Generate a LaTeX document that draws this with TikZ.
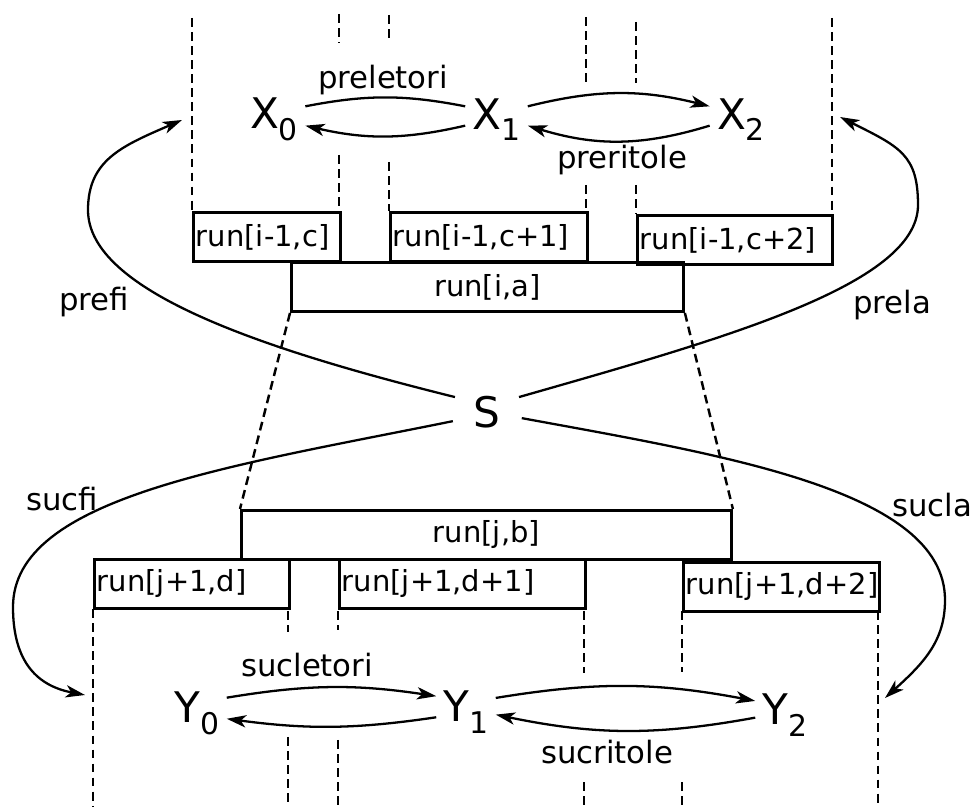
\documentclass[tikz,border=0pt]{standalone}
\usepackage{fontspec}
\setmainfont{DejaVu Sans}
\usetikzlibrary{arrows.meta,shapes.geometric}
\newcommand\runfont{\fontsize{16.5}{19}\selectfont}
\newcommand\lblfont{\fontsize{17.5}{20}\selectfont}
\newcommand\varfont{\fontsize{24}{28}\selectfont}
\newcommand\lowsub[1]{\raisebox{-6.5pt}{\fontsize{17}{20}\selectfont #1}}
\tikzset{
  runbox/.style={draw, line width=1.7pt, anchor=north west, minimum height=0.98cm,
                 inner xsep=0.05cm, inner ysep=0pt, align=left, font=\runfont},
  vname/.style={inner xsep=4pt, inner ysep=2pt, font=\varfont},
  lbl/.style={inner sep=1pt, font=\lblfont},
  guide/.style={line width=1.4pt, dash pattern=on 5pt off 3pt},
  ar/.style={-{Stealth[length=11pt,width=7pt,inset=3pt]}, line width=1.3pt},
  ln/.style={line width=1.3pt}
}

\begin{document}
\begin{tikzpicture}[x=0.02cm, y=-0.02cm]
  \useasboundingbox (0,0) rectangle (978,807);
  \foreach \x/\a/\b in {192/18/211, 339/14/43, 339/155/211, 389/15/43, 389/162/211,
      586/17/82, 586/185/211, 636/22/83, 636/185/214, 832/18/214,
      93/609/807, 288/611/632, 288/737/807, 338/611/630, 338/740/807,
      584/611/673, 584/782/807, 682/611/672, 682/782/807, 878/611/807}
    \draw[guide] (\x,\a) -- (\x,\b);

  % upper runs
  \node[runbox, text width=2.84cm] (rc) at (192,211) {run[i-1,c]};
  \node[runbox, text width=3.84cm] (rc1) at (389,211) {run[i-1,c+1]};
  \node[runbox, text width=3.80cm] (rc2) at (636,214) {run[i-1,c+2]};
  \node[runbox, text width=7.74cm, align=center] (ra) at (290,261) {run[i,a]};
  % lower runs
  \node[runbox, text width=9.70cm, align=center] (rb) at (240,509) {run[j,b]};
  \node[runbox, text width=3.80cm] (rd) at (93,558) {run[j+1,d]};
  \node[runbox, text width=4.82cm] (rd1) at (338,558) {run[j+1,d+1]};
  \node[runbox, text width=3.82cm] (rd2) at (682,561) {run[j+1,d+2]};
  \draw[guide] (ra.south west) -- (rb.north west);
  \draw[guide] (ra.south east) -- (rb.north east);

  \node[vname] (X0) at (274,119.5) {X\lowsub{0}};
  \node[vname] (X1) at (496.5,119.5) {X\lowsub{1}};
  \node[vname] (X2) at (741,119.5) {X\lowsub{2}};
  \node[vname] (Y0) at (197,713.5) {Y\lowsub{0}};
  \node[vname] (Y1) at (466,712) {Y\lowsub{1}};
  \node[vname] (Y2) at (785,715) {Y\lowsub{2}};
  \node[circle, minimum size=1.4cm, inner sep=0pt, font=\varfont] (S) at (487,412) {S};

  \draw[ln] ([yshift=7.5pt]X0.east) to[bend left=11] ([yshift=7.5pt]X1.west);
  \draw[ar] ([yshift=-3.5pt]X1.west) to[bend left=13] ([yshift=-3.5pt]X0.east);
  \draw[ar] ([yshift=7.5pt]X1.east) to[bend left=14] ([yshift=7.5pt]X2.west);
  \draw[ar] ([yshift=-3.5pt]X2.west) to[bend left=17] ([yshift=-3.5pt]X1.east);
  \draw[ar] ([yshift=9pt]Y0.east) to[bend left=9] ([yshift=9pt]Y1.west);
  \draw[ar] ([yshift=-3pt]Y1.west) to[bend left=8] ([yshift=-3pt]Y0.east);
  \draw[ar] ([yshift=8pt]Y1.east) to[bend left=10] ([yshift=8pt]Y2.west);
  \draw[ar] ([yshift=-1.5pt]Y2.west) to[bend left=11] ([yshift=-1.5pt]Y1.east);

  \node[lbl] (lpl) at (383,80) {preletori};
  \node[lbl] (lpr) at (622,160) {preritole};
  \node[lbl] (lsl) at (307,665) {sucletori};
  \node[lbl] (lsr) at (607,752) {sucritole};

  \coordinate (pfi) at (182,120);   \coordinate (pfiw) at (88,210);
  \coordinate (pla) at (840,117);   \coordinate (plaw) at (918,205);
  \coordinate (sfi) at (85,695);    \coordinate (sfiw) at (13,607);
  \coordinate (sla) at (885,698);   \coordinate (slaw) at (945,600);
  \draw[ar] (S.155) .. controls (257,348) and (88,290) .. (pfiw)
                   .. controls (88,160) and (122,146) .. (pfi);
  \draw[ar] (S.25) .. controls (722,339) and (918,285) .. (plaw)
                  .. controls (918,155) and (900,147) .. (pla);
  \draw[ar] (S.195) .. controls (232,466) and (13,497) .. (sfiw)
                   .. controls (13,657) and (33,685) .. (sfi);
  \draw[ar] (S.-10) .. controls (722,455) and (945,490) .. (slaw)
                   .. controls (945,640) and (925,662) .. (sla);
  \node[lbl] (lpf) at (94,302) {prefi};
  \node[lbl] (lpa) at (892,305) {prela};
  \node[lbl] (lsf) at (62,499) {sucfi};
  \node[lbl] (lsa) at (932,505) {sucla};
\end{tikzpicture}
\end{document}
